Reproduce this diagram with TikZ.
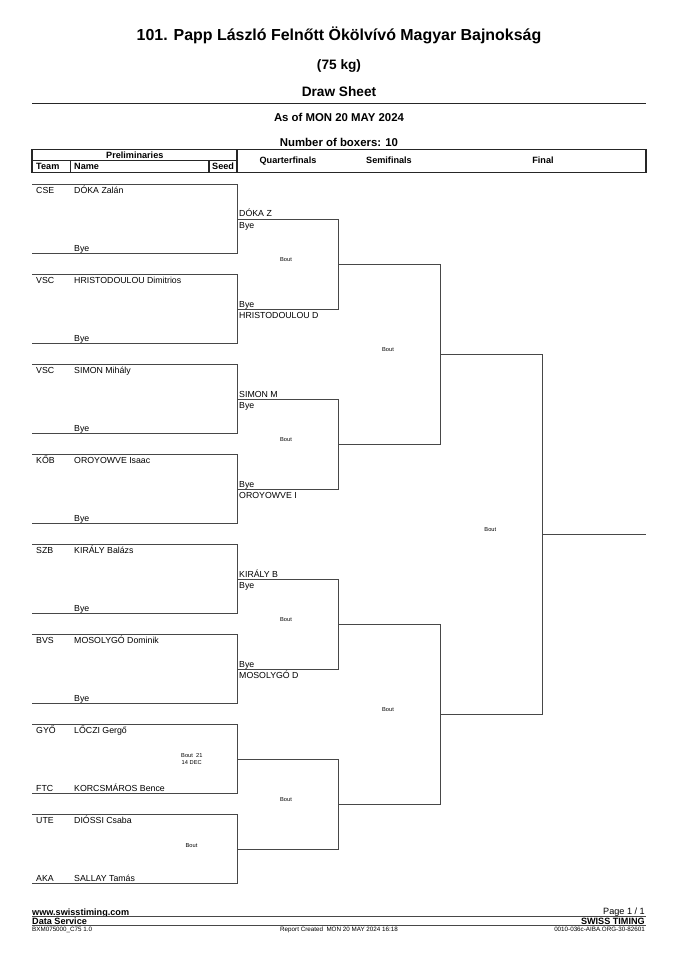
\documentclass[tikz,border=0pt]{standalone}
\usepackage{fontspec}
\setmainfont{Liberation Sans}
\usetikzlibrary{positioning}

\begin{document}
\begin{tikzpicture}[x=0.8781pt, y=-0.8781pt,
    every node/.style={inner sep=0pt},
    rule/.style={line width=0.9pt, black!85},
    bracket/.style={line width=0.8pt, black!72},
    nm/.style={anchor=base west, font=\fontsize{7.7}{9}\selectfont},
    hd/.style={anchor=base, font=\fontsize{8}{9}\selectfont\bfseries},
    bout/.style={anchor=base, font=\fontsize{5}{6}\selectfont},
    foot/.style={font=\fontsize{8}{9}\selectfont},
    tiny/.style={anchor=base, font=\fontsize{5.5}{6}\selectfont}]

    \useasboundingbox (0,0) rectangle (678,960);

    % Title block
    \node[anchor=base, font=\fontsize{14}{16}\selectfont\bfseries] (title) at (339,41) {101. Papp László Felnőtt Ökölvívó Magyar Bajnokság};
    \node[anchor=base, font=\fontsize{12}{14}\selectfont\bfseries] (weight) at (339,69.5) {(75 kg)};
    \node[anchor=base, font=\fontsize{12}{14}\selectfont\bfseries] (sheet) at (339,96.5) {Draw Sheet};
    \draw[rule] (32,103.3) -- (646,103.3);
    \node[anchor=base, font=\fontsize{10}{12}\selectfont\bfseries] (asof) at (339,121.5) {As of MON 20 MAY 2024};
    \node[anchor=base, font=\fontsize{10}{12}\selectfont\bfseries] (count) at (339,146.7) {Number of boxers: 10};

    % Header table
    \draw[rule] (32,149.3) rectangle (646,172.3);
    \draw[rule] (32,160.7) -- (237,160.7);
    \draw[rule] (237,149.3) -- (237,172.3);
    \draw[rule] (70.7,160.7) -- (70.7,172.3);
    \draw[rule] (209,160.7) -- (209,172.3);
    \node[hd] (prelim) at (134.8,158.3) {Preliminaries};
    \node[hd, anchor=base west] (team) at (36,169.5) {Team};
    \node[hd, anchor=base west] (name) at (74,169.5) {Name};
    \node[hd, anchor=base west] (seed) at (212,169.5) {Seed};
    \node[hd] (quarter) at (288,163.5) {Quarterfinals};
    \node[hd] (semi) at (389,163.5) {Semifinals};
    \node[hd] (final) at (543,163.5) {Final};

    % Preliminaries: 8 pairs, pitch 90, height 69
    \foreach \k/\ta/\na/\tb/\nb in {0/CSE/DÓKA Zalán//Bye,
        1/VSC/HRISTODOULOU Dimitrios//Bye, 2/VSC/SIMON Mihály//Bye,
        3/KŐB/OROYOWVE Isaac//Bye, 4/SZB/KIRÁLY Balázs//Bye,
        5/BVS/MOSOLYGÓ Dominik//Bye, 6/GYŐ/LŐCZI Gergő/FTC/KORCSMÁROS Bence,
        7/UTE/DIÓSSI Csaba/AKA/SALLAY Tamás}{
      \pgfmathsetmacro{\top}{184.8+90*\k}
      \draw[bracket] (32,\top) -- (237,\top) -- (237,\top+69) -- (32,\top+69);
      \node[nm] (ta\k) at (36,\top+8.5) {\ta};
      \node[nm] (na\k) at (74,\top+8.5) {\na};
      \node[nm] (tb\k) at (36,\top+67) {\tb};
      \node[nm] (nb\k) at (74,\top+67) {\nb};
    }
    \node[bout, anchor=base west] (bout21) at (181,757) {Bout\ \ 21};
    \node[bout, anchor=base west] (dec14) at (181.5,764.7) {14 DEC};
    \node[bout] (boutp8) at (191.5,847) {Bout};

    % Quarterfinals
    \foreach \k/\na/\nb/\nc/\nd in {0/DÓKA Z/Bye/Bye/HRISTODOULOU D,
        1/SIMON M/Bye/Bye/OROYOWVE I, 2/KIRÁLY B/Bye/Bye/MOSOLYGÓ D, 3////}{
      \pgfmathsetmacro{\top}{219.3+180*\k}
      \draw[bracket] (237,\top) -- (338.3,\top) -- (338.3,\top+90) -- (237,\top+90);
      \node[nm] (qa\k) at (239,\top-2.3) {\na};
      \node[nm] (qb\k) at (239,\top+9.5) {\nb};
      \node[nm] (qc\k) at (239,\top+88) {\nc};
      \node[nm] (qd\k) at (239,\top+99.5) {\nd};
      \node[bout] (qbout\k) at (286,\top+41.8) {Bout};
    }

    % Semifinals
    \foreach \k in {0,1}{
      \pgfmathsetmacro{\top}{264.3+360*\k}
      \draw[bracket] (338.3,\top) -- (440.7,\top) -- (440.7,\top+180) -- (338.3,\top+180);
      \node[bout] (sbout\k) at (388,\top+86.8) {Bout};
    }

    % Final
    \draw[bracket] (440.7,354.3) -- (542.7,354.3) -- (542.7,714.3) -- (440.7,714.3);
    \draw[bracket] (542.7,534.3) -- (646,534.3);
    \node[bout] (fbout) at (490.3,531.5) {Bout};

    % Footer
    \node[foot, anchor=base west, font=\fontsize{8}{9}\selectfont\bfseries] (web) at (32,915) {www.swisstiming.com};
    \node[foot, anchor=base east] (page) at (645,914.5) {Page 1 / 1};
    \draw[bracket] (32,916.6) -- (646,916.6);
    \node[foot, anchor=base west, font=\fontsize{8}{9}\selectfont\bfseries] (data) at (32,924.2) {Data Service};
    \node[foot, anchor=base east, font=\fontsize{8}{9}\selectfont\bfseries] (swiss) at (645,924.2) {SWISS TIMING};
    \draw[bracket] (32,925.6) -- (646,925.6);
    \node[tiny, anchor=base west] (code) at (32,931.8) {BXM075000\_C75 1.0};
    \node[tiny] (report) at (339,931.8) {Report Created\ \ MON 20 MAY 2024 16:18};
    \node[tiny, anchor=base east] (ref) at (645,931.8) {0010-036c-AIBA.ORG-30-82601};

\end{tikzpicture}
\end{document}
